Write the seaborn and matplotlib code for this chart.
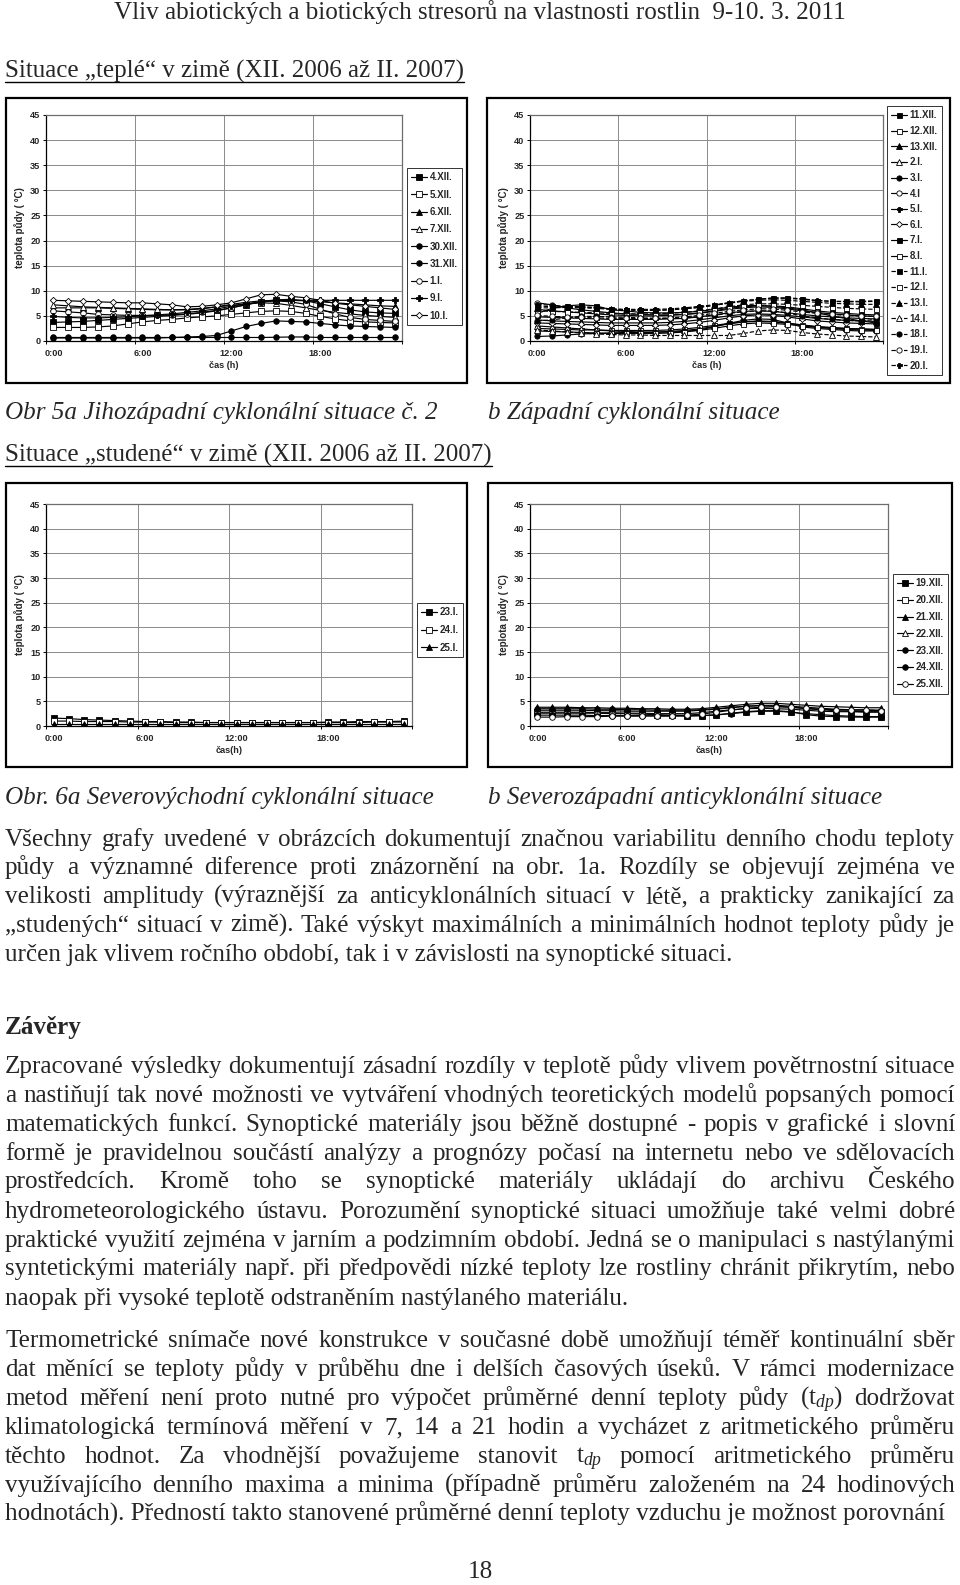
import unicodedata
import numpy as np
import matplotlib
matplotlib.use("Agg")
import matplotlib.pyplot as plt
import seaborn as sns
from matplotlib.patches import Rectangle
from matplotlib.lines import Line2D

# ---------------- data ----------------
HOURS = list(range(24))
XTICK_LABELS = ["0:00", "6:00", "12:00", "18:00"]
YTICKS = list(range(0, 46, 5))

labels_5a = ["4.XII.", "5.XII.", "6.XII.", "7.XII.", "30.XII.", "31.XII.", "1.I.", "9.I.", "10.I."]
values_5a = [
    [3.7, 3.8, 3.9, 4.1, 4.3, 4.5, 4.7, 4.9, 5.1, 5.3, 5.6, 6.0, 6.6, 7.2, 7.8, 8.2, 8.3, 8.0, 7.4, 6.8, 6.2, 5.8, 5.6, 5.5],
    [2.7, 2.7, 2.7, 2.8, 3.0, 3.4, 3.8, 4.1, 4.3, 4.6, 4.8, 5.0, 5.3, 5.6, 5.9, 6.0, 5.9, 5.5, 4.9, 4.4, 4.0, 3.8, 3.7, 3.6],
    [6.6, 6.6, 6.6, 6.6, 6.5, 6.4, 6.3, 6.2, 6.2, 6.2, 6.4, 6.8, 7.3, 7.7, 8.0, 8.1, 8.1, 8.0, 7.8, 7.6, 7.4, 7.2, 7.0, 6.9],
    [7.2, 7.0, 6.8, 6.7, 6.6, 6.5, 6.4, 6.3, 6.2, 6.3, 6.5, 6.8, 7.1, 7.4, 7.6, 7.5, 7.1, 6.6, 6.1, 5.7, 5.4, 5.1, 4.9, 4.7],
    [0.7, 0.7, 0.7, 0.7, 0.7, 0.7, 0.7, 0.7, 0.7, 0.7, 0.7, 0.7, 0.7, 0.7, 0.7, 0.75, 0.8, 0.8, 0.7, 0.7, 0.7, 0.7, 0.7, 0.7],
    [0.6, 0.6, 0.6, 0.6, 0.6, 0.6, 0.6, 0.6, 0.7, 0.8, 0.9, 1.1, 2.0, 2.9, 3.5, 4.0, 3.9, 3.8, 3.5, 3.2, 3.0, 2.9, 2.8, 2.7],
    [6.0, 5.8, 5.6, 5.3, 5.2, 5.1, 5.1, 5.1, 5.2, 5.4, 5.7, 6.1, 6.6, 7.3, 7.8, 8.0, 7.8, 7.3, 6.3, 5.4, 4.7, 4.3, 4.1, 3.9],
    [4.9, 4.7, 4.6, 4.6, 4.7, 4.8, 5.0, 5.2, 5.4, 5.7, 6.0, 6.4, 6.9, 7.4, 7.8, 8.0, 8.1, 8.1, 8.1, 8.1, 8.1, 8.1, 8.1, 8.1],
    [8.1, 8.0, 7.9, 7.8, 7.7, 7.6, 7.6, 7.4, 7.2, 6.8, 6.9, 7.2, 7.6, 8.4, 9.2, 9.3, 8.9, 8.6, 8.1, 7.5, 7.2, 6.9, 6.6, 6.3],
]

labels_5b = ["11.XII.", "12.XII.", "13.XII.", "2.I.", "3.I.", "4.I", "5.I.", "6.I.", "7.I.", "8.I.",
             "11.I.", "12.I.", "13.I.", "14.I.", "18.I.", "19.I.", "20.I."]
values_5b = [
    [6.3, 6.0, 5.8, 5.6, 5.4, 5.2, 5.1, 5.0, 5.0, 5.1, 5.3, 5.6, 6.0, 6.5, 6.8, 7.0, 7.0, 6.8, 6.4, 6.0, 5.7, 5.5, 5.3, 5.2],
    [2.5, 2.4, 2.3, 2.2, 2.2, 2.1, 2.1, 2.1, 2.1, 2.2, 2.4, 2.7, 3.1, 3.5, 3.8, 3.9, 3.8, 3.5, 3.1, 2.8, 2.6, 2.5, 2.4, 2.3],
    [4.2, 4.0, 3.9, 3.8, 3.7, 3.6, 3.6, 3.6, 3.6, 3.7, 3.9, 4.2, 4.6, 5.0, 5.3, 5.4, 5.3, 5.1, 4.8, 4.5, 4.3, 4.1, 4.0, 3.9],
    [3.0, 2.8, 2.6, 2.4, 2.2, 2.0, 1.9, 1.8, 1.8, 1.9, 2.1, 2.4, 2.9, 3.4, 3.8, 4.0, 3.9, 3.6, 3.2, 2.9, 2.7, 2.5, 2.4, 2.3],
    [0.9, 1.0, 1.2, 1.4, 1.5, 1.6, 1.7, 1.7, 1.7, 1.8, 1.9, 2.2, 2.8, 3.5, 4.1, 4.4, 4.3, 3.6, 2.8, 2.5, 2.3, 2.1, 2.0, 2.0],
    [7.6, 7.2, 6.6, 6.2, 5.9, 5.6, 5.4, 5.3, 5.2, 5.2, 5.3, 5.5, 5.9, 6.3, 6.6, 6.8, 6.7, 6.4, 6.0, 5.7, 5.4, 5.2, 5.0, 4.9],
    [4.8, 4.7, 4.6, 4.5, 4.4, 4.3, 4.3, 4.3, 4.3, 4.4, 4.5, 4.8, 5.2, 5.6, 5.9, 6.0, 5.9, 5.6, 5.3, 5.0, 4.8, 4.6, 4.5, 4.4],
    [3.6, 3.5, 3.4, 3.3, 3.2, 3.1, 3.1, 3.1, 3.1, 3.2, 3.4, 3.7, 4.1, 4.6, 5.0, 5.2, 5.1, 4.8, 4.4, 4.0, 3.8, 3.6, 3.5, 3.4],
    [5.5, 6.5, 7.0, 7.2, 7.0, 6.2, 6.0, 5.7, 5.6, 5.6, 5.7, 5.9, 6.3, 6.7, 7.0, 7.1, 6.9, 6.6, 6.2, 5.6, 5.0, 4.5, 4.0, 3.6],
    [2.0, 1.9, 1.8, 1.7, 1.6, 1.5, 1.5, 1.5, 1.5, 1.6, 1.8, 2.1, 2.5, 3.0, 3.4, 3.6, 3.5, 3.3, 3.0, 2.7, 2.5, 2.3, 2.2, 2.1],
    [7.0, 6.8, 6.8, 6.8, 6.7, 6.4, 6.2, 6.1, 6.1, 6.2, 6.4, 6.7, 7.1, 7.6, 8.0, 8.3, 8.5, 8.5, 8.3, 8.0, 7.9, 7.9, 7.9, 8.0],
    [6.0, 5.9, 5.8, 5.7, 5.6, 5.5, 5.4, 5.4, 5.4, 5.5, 5.7, 6.0, 6.4, 6.8, 7.2, 7.4, 7.4, 7.3, 7.1, 6.9, 6.7, 6.5, 6.4, 6.3],
    [6.6, 6.6, 6.7, 6.6, 6.5, 6.3, 6.2, 6.1, 6.1, 6.2, 6.4, 6.7, 7.1, 7.5, 7.9, 8.1, 8.2, 8.1, 7.9, 7.7, 7.5, 7.4, 7.3, 7.3],
    [2.2, 2.0, 1.8, 1.6, 1.4, 1.3, 1.2, 1.2, 1.1, 1.1, 1.1, 1.1, 1.1, 1.1, 1.5, 2.0, 2.2, 2.1, 1.7, 1.4, 1.2, 1.0, 0.9, 0.8],
    [4.0, 4.2, 4.6, 4.9, 4.9, 4.8, 4.7, 4.6, 4.5, 4.5, 4.6, 4.8, 5.1, 5.5, 5.8, 6.0, 6.0, 5.6, 5.0, 4.6, 4.3, 4.1, 4.0, 4.3],
    [5.1, 4.9, 4.8, 4.7, 4.6, 4.5, 4.5, 4.5, 4.5, 4.6, 4.8, 5.1, 5.5, 5.9, 6.2, 6.4, 6.4, 6.1, 5.8, 5.5, 5.3, 5.1, 5.0, 4.9],
    [7.3, 7.1, 6.9, 6.8, 6.6, 6.4, 6.3, 6.3, 6.3, 6.4, 6.6, 6.9, 7.2, 7.6, 8.0, 8.3, 8.6, 8.6, 8.4, 8.1, 7.9, 7.8, 7.8, 7.9],
]

labels_6a = ["23.I.", "24.I.", "25.I."]
values_6a = [
    [1.6, 1.5, 1.3, 1.2, 1.1, 1.0, 0.9, 0.9, 0.8, 0.8, 0.7, 0.7, 0.7, 0.7, 0.7, 0.7, 0.7, 0.7, 0.8, 0.8, 0.9, 0.9, 0.9, 1.0],
    [1.0, 1.0, 0.9, 0.9, 0.9, 0.8, 0.8, 0.8, 0.7, 0.7, 0.7, 0.7, 0.7, 0.7, 0.7, 0.7, 0.7, 0.7, 0.7, 0.7, 0.7, 0.8, 0.8, 0.8],
    [0.4, 0.4, 0.4, 0.4, 0.4, 0.4, 0.4, 0.4, 0.4, 0.4, 0.4, 0.4, 0.4, 0.4, 0.4, 0.4, 0.4, 0.4, 0.4, 0.4, 0.4, 0.4, 0.4, 0.4],
]

labels_6b = ["19.XII.", "20.XII.", "21.XII.", "22.XII.", "23.XII.", "24.XII.", "25.XII."]
values_6b = [
    [2.6, 2.6, 2.6, 2.6, 2.6, 2.5, 2.5, 2.4, 2.3, 2.2, 2.1, 2.1, 2.2, 2.6, 2.9, 3.1, 3.1, 2.9, 2.3, 2.0, 1.9, 1.8, 1.8, 1.8],
    [2.8, 2.8, 2.8, 2.8, 2.7, 2.7, 2.6, 2.6, 2.5, 2.5, 2.5, 2.7, 3.0, 3.3, 3.5, 3.6, 3.5, 3.4, 3.2, 3.0, 2.9, 2.9, 2.8, 2.8],
    [3.8, 3.8, 3.8, 3.7, 3.7, 3.6, 3.6, 3.5, 3.5, 3.4, 3.4, 3.5, 3.8, 4.1, 4.4, 4.6, 4.6, 4.4, 4.2, 4.0, 3.9, 3.8, 3.7, 3.7],
    [3.2, 3.2, 3.2, 3.2, 3.1, 3.1, 3.0, 3.0, 3.0, 3.0, 3.0, 3.2, 3.4, 3.7, 4.0, 4.2, 4.2, 4.0, 3.8, 3.6, 3.4, 3.3, 3.3, 3.2],
    [3.5, 3.5, 3.5, 3.5, 3.4, 3.4, 3.3, 3.3, 3.2, 3.2, 3.2, 3.3, 3.5, 3.8, 4.0, 4.1, 4.0, 3.8, 3.5, 3.3, 3.1, 3.0, 2.9, 2.9],
    [2.2, 2.2, 2.2, 2.2, 2.1, 2.1, 2.1, 2.1, 2.0, 2.0, 2.0, 2.1, 2.3, 2.5, 2.8, 3.0, 3.0, 2.8, 2.5, 2.3, 2.1, 2.0, 1.9, 1.9],
    [1.8, 1.8, 1.9, 1.9, 1.9, 2.0, 2.0, 2.0, 2.1, 2.1, 2.2, 2.4, 2.8, 3.2, 3.6, 3.8, 3.9, 3.8, 3.6, 3.4, 3.3, 3.2, 3.2, 3.1],
]

# marker styles (marker, filled, linestyle, size)
styles_5a = [("s", True, "-", 3.8), ("s", False, "-", 3.8), ("^", True, "-", 4.0), ("^", False, "-", 4.0),
             ("o", True, "-", 4.0), ("o", True, "-", 4.0), ("o", False, "-", 4.0), ("P", True, "-", 3.8),
             ("D", False, "-", 3.2)]
styles_5b = [("s", True, "-", 3.6), ("s", False, "-", 3.6), ("^", True, "-", 3.8), ("^", False, "-", 3.8),
             ("o", True, "-", 3.8), ("o", False, "-", 3.8), ("P", True, "-", 3.6), ("D", False, "-", 3.0),
             ("s", True, "-", 3.6), ("s", False, "-", 3.6),
             ("s", True, "--", 3.6), ("s", False, "--", 3.6), ("^", True, "--", 3.8), ("^", False, "--", 3.8),
             ("o", True, "--", 3.8), ("o", False, "--", 3.8), ("P", True, "--", 3.6)]
styles_6a = [("s", True, "-", 3.8), ("s", False, "-", 3.8), ("^", True, "-", 4.0)]
styles_6b = [("s", True, "-", 3.8), ("s", False, "-", 3.8), ("^", True, "-", 4.0), ("^", False, "-", 4.0),
             ("o", True, "-", 4.0), ("o", True, "-", 4.0), ("o", False, "-", 4.0)]

# ---------------- figure ----------------
W, H = 960, 1585
sns.set_theme(style="white")
plt.rcParams["font.family"] = ["Liberation Sans", "DejaVu Sans"]
plt.rcParams["mathtext.fontset"] = "custom"
plt.rcParams["mathtext.rm"] = "Liberation Serif"
plt.rcParams["mathtext.it"] = "Liberation Serif:italic"

fig = plt.figure(figsize=(W / 100, H / 100), dpi=100)
fig.patch.set_facecolor("white")
renderer = fig.canvas.get_renderer()

TICK_FS = 6.6
LEG_FS = 7.0
LAB_FS = 7.0


def nfc(s):
    return unicodedata.normalize("NFC", s.replace("\u00a0", " "))


def fx(x):
    return x / W


def fy(y):
    return 1 - y / H


def add_axes_px(x0, y0, x1, y1):
    return fig.add_axes([fx(x0), fy(y1), (x1 - x0) / W, (y1 - y0) / H])


def draw_chart(frame, area, leg_pos, labels, values, styles, xlabel, ylab_x, leg_space):
    x0, y0, x1, y1 = frame
    fig.add_artist(Rectangle((fx(x0), fy(y1)), (x1 - x0) / W, (y1 - y0) / H,
                             transform=fig.transFigure, fill=False, ec="black", lw=1.6, zorder=5))
    ax = add_axes_px(*area)
    ax.set_facecolor("white")
    xs = np.array(HOURS) + 0.5
    for lab, vals, (m, filled, ls, ms) in zip(labels, values, styles):
        sns.lineplot(x=xs, y=vals, ax=ax, color="black", linewidth=0.85, linestyle=ls,
                     marker=m, markersize=ms, markerfacecolor="black" if filled else "white",
                     markeredgecolor="black", markeredgewidth=0.6, label=lab, errorbar=None)
    ax.set_xlim(0, 24)
    ax.set_ylim(0, 45)
    ax.set_yticks(YTICKS)
    ax.set_yticklabels([str(v) for v in YTICKS], fontsize=TICK_FS, fontweight="bold")
    ax.set_xticks([0, 6, 12, 18, 24])
    ax.set_xticklabels([])
    ax.set_xticks(np.array([0, 6, 12, 18]) + 0.5, minor=True)
    ax.set_xticklabels(XTICK_LABELS, minor=True, fontsize=TICK_FS, fontweight="bold")
    ax.tick_params(axis="y", which="major", length=2.5, width=0.7, pad=1.5, color="black", left=True)
    ax.tick_params(axis="x", which="major", length=2.5, width=0.7, color="black", bottom=True)
    ax.tick_params(axis="x", which="minor", length=0, pad=5.5)
    ax.grid(True, which="major", color="#8a8a8a", linewidth=0.7)
    ax.set_axisbelow(True)
    for side in ["left", "bottom"]:
        ax.spines[side].set_color("black")
        ax.spines[side].set_linewidth(0.9)
    for side in ["top", "right"]:
        ax.spines[side].set_color("#6e6e6e")
        ax.spines[side].set_linewidth(0.9)
    ax.set_xlabel(nfc(xlabel), fontsize=LAB_FS - 0.4, fontweight="bold")
    ax.xaxis.set_label_coords(0.5, -(361 - 341) / 226)
    ax.set_ylabel(nfc("teplota půdy ( °C)"), fontsize=LAB_FS, fontweight="bold")
    ax.yaxis.set_label_coords((ylab_x - area[0]) / (area[2] - area[0]), 0.5)
    handles, labs = ax.get_legend_handles_labels()
    leg = ax.legend(handles, labs, loc="upper left", bbox_to_anchor=(fx(leg_pos[0]), fy(leg_pos[1])),
                    bbox_transform=fig.transFigure, frameon=True, fancybox=False, edgecolor="black",
                    prop={"weight": "bold", "size": LEG_FS}, handlelength=1.6, handletextpad=0.3,
                    borderpad=0.45, labelspacing=leg_space, borderaxespad=0, numpoints=1)
    leg.get_frame().set_linewidth(0.7)
    return ax


draw_chart((6, 98, 467, 383), (46, 115, 402, 341), (407, 168), labels_5a, values_5a, styles_5a,
           "čas (h)", 25, 0.75)
draw_chart((487, 98, 950, 383), (530, 115, 883, 341), (887, 106), labels_5b, values_5b, styles_5b,
           "čas (h)", 509, 0.58)
draw_chart((6, 483, 467, 767), (46, 504, 412, 726), (417, 603), labels_6a, values_6a, styles_6a,
           "čas(h)", 25, 0.78)
draw_chart((488, 483, 952, 767), (530, 504, 888, 726), (893, 574), labels_6b, values_6b, styles_6b,
           "čas(h)", 509, 0.7)

# ---------------- page text ----------------
SERIF = ["Liberation Serif", "DejaVu Serif"]


def text_width(s, **kw):
    t = fig.text(0, 0, nfc(s), **kw)
    w = t.get_window_extent(renderer).width
    t.remove()
    return w


def fit_size(s, target, **kw):
    w = text_width(s, fontsize=16, **kw)
    return 16 * target / w


last_line = "hodnotách). Předností takto stanovené průměrné denní teploty vzduchu je možnost porovnání"
FS = fit_size(last_line, 940, family=SERIF)
header = "Vliv abiotických a biotických stresorů na vlastnosti rostlin  9-10. 3. 2011"
FS_HEAD = fit_size(header, 733, family=SERIF)
cap1 = "Obr 5a Jihozápadní cyklonální situace č. 2"
FS_CAP = fit_size(cap1, 432, family=SERIF, style="italic")
head1 = "Situace „teplé“ v zimě (XII. 2006 až II. 2007)"
FS_H = fit_size(head1, 460, family=SERIF)


def put(s, x, y, fs, ha="left", **kw):
    return fig.text(fx(x), fy(y), nfc(s), fontsize=fs, family=SERIF, ha=ha, va="baseline", **kw)


def put_line(s, y, fs=None, justify=True, x0=5, x1=955, **kw):
    fs = FS if fs is None else fs
    words = nfc(s).split(" ")
    if not justify:
        put(s, x0, y, fs, **kw)
        return
    ws = [text_width(w, fontsize=fs, family=SERIF, **kw) for w in words]
    gap = (x1 - x0 - sum(ws)) / (len(words) - 1)
    x = x0
    for w, wd in zip(words, ws):
        put(w, x, y, fs, **kw)
        x += wd + gap


def underlined(s, x, y, fs):
    w = text_width(s, fontsize=fs, family=SERIF)
    put(s, x, y, fs)
    fig.add_artist(Line2D([fx(x), fx(x + w)], [fy(y + 4), fy(y + 4)], transform=fig.transFigure,
                          color="black", lw=1.0))


put(header, 480, 19, FS_HEAD, ha="center")
underlined(head1, 5, 78, FS_H)
put(cap1, 5, 419, FS_CAP, style="italic")
put("b Západní cyklonální situace", 488, 419, FS_CAP, style="italic")
underlined("Situace „studené“ v zimě (XII. 2006 až II. 2007)", 5, 462, FS_H)
put("Obr. 6a Severovýchodní cyklonální situace", 5, 804, FS_CAP, style="italic")
put("b Severozápadní anticyklonální situace", 488, 804, FS_CAP, style="italic")

para1 = [
    "V\u0161echny grafy uveden\u00e9 v obr\u00e1zc\u00edch dokumentuj\u00ed zna\u010dnou variabilitu denn\u00edho chodu teploty",
    "p\u016fdy a v\u00fdznamn\u00e9 diference proti zn\u00e1zorn\u011bn\u00ed na obr. 1a. Rozd\u00edly se objevuj\u00ed zejm\u00e9na ve",
    "velikosti amplitudy (v\u00fdrazn\u011bj\u0161\u00ed za anticyklon\u00e1ln\u00edch situac\u00ed v l\u00e9t\u011b, a prakticky zanikaj\u00edc\u00ed za",
    "\u201estuden\u00fdch\u201c situac\u00ed v zim\u011b). Tak\u00e9 v\u00fdskyt maxim\u00e1ln\u00edch a minim\u00e1ln\u00edch hodnot teploty p\u016fdy je",
    "ur\u010den jak vlivem ro\u010dn\u00edho obdob\u00ed, tak i v z\u00e1vislosti na synoptick\u00e9 situaci.",
]
para1_y = [846, 874, 903, 932, 961]

para2 = [
    "Zpracované výsledky dokumentují zásadní rozdíly v teplotě půdy vlivem povětrnostní situace",
    "a nastiňují tak nové možnosti ve vytváření vhodných teoretických modelů popsaných pomocí",
    "matematických funkcí. Synoptické materiály jsou běžně dostupné - popis v grafické i slovní",
    "formě je pravidelnou součástí analýzy a prognózy počasí na internetu nebo ve sdělovacích",
    "prostředcích. Kromě toho se synoptické materiály ukládají do archivu Českého",
    "hydrometeorologického ústavu. Porozumění synoptické situaci umožňuje také velmi dobré",
    "praktické využití zejména v jarním a podzimním období. Jedná se o manipulaci s nastýlanými",
    "syntetickými materiály např. při předpovědi nízké teploty lze rostliny chránit přikrytím, nebo",
    "naopak při vysoké teplotě odstraněním nastýlaného materiálu.",
]
para2_y = [1073, 1102, 1131, 1160, 1188, 1218, 1247, 1275, 1305]

para3 = [
    "Termometrické snímače nové konstrukce v současné době umožňují téměř kontinuální sběr",
    "dat měnící se teploty půdy v průběhu dne i delších časových úseků. V rámci modernizace",
    "metod měření není proto nutné pro výpočet průměrné denní teploty půdy (t$_{dp}$) dodržovat",
    "klimatologická termínová měření v 7, 14 a 21 hodin a vycházet z aritmetického průměru",
    "těchto hodnot. Za vhodnější považujeme stanovit t$_{dp}$ pomocí aritmetického průměru",
    "využívajícího denního maxima a minima (případně průměru založeném na 24 hodinových",
    last_line,
]
para3_y = [1347, 1376, 1405, 1434, 1463, 1492, 1521]

for para, ys in [(para1, para1_y), (para2, para2_y), (para3, para3_y)]:
    for i, (s, y) in enumerate(zip(para, ys)):
        put_line(s, y, justify=(i < len(para) - 1))

put("Závěry", 5, 1034, FS, fontweight="bold")
put("18", 480, 1578, FS, ha="center")

fig.savefig("out.png", dpi=100, facecolor="white")
